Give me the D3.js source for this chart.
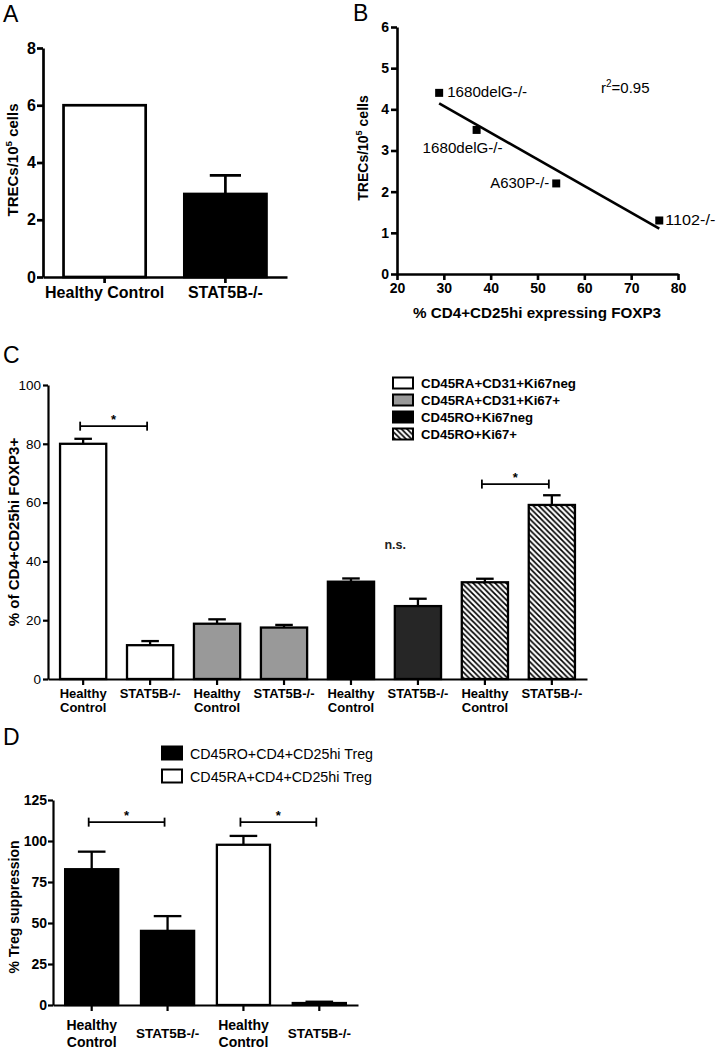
<!DOCTYPE html>
<html><head><meta charset="utf-8">
<script src="https://cdn.jsdelivr.net/npm/d3@7"></script>
<style>body{margin:0;background:#fff} svg{display:block} text{font-family:"Liberation Sans",Arial,sans-serif}</style>
</head><body><svg id="c" width="717" height="1048"></svg>
<script>
// ---------- DATA ----------
// Panel A
const aCategories = ["Healthy Control", "STAT5B-/-"];
const aValues = [6.0, 2.9];
const aErrTop = [6.0, 3.55];
const aTicks = [0, 2, 4, 6, 8];
// Panel B
const bX = [29, 37, 54, 76];
const bY = [4.4, 3.5, 2.2, 1.3];
const bLabels = ["1680delG-/-", "1680delG-/-", "A630P-/-", "1102-/-"];
const bXTicks = [20, 30, 40, 50, 60, 70, 80];
const bYTicks = [0, 1, 2, 3, 4, 5, 6];
const bR2 = "=0.95";
// Panel C
const cCategories = ["Healthy Control", "STAT5B-/-", "Healthy Control", "STAT5B-/-", "Healthy Control", "STAT5B-/-", "Healthy Control", "STAT5B-/-"];
const cSeries = ["CD45RA+CD31+Ki67neg", "CD45RA+CD31+Ki67+", "CD45RO+Ki67neg", "CD45RO+Ki67+"];
const cSeriesIndex = [0, 0, 1, 1, 2, 2, 3, 3];
const cValues = [80, 11.5, 18.8, 17.5, 33.1, 24.8, 32.9, 59.2];
const cErrTop = [81.7, 12.9, 20.3, 18.4, 34.2, 27.3, 34.1, 62.5];
const cTicks = [0, 20, 40, 60, 80, 100];
const cSigFrom = [0, 6], cSigTo = [1, 7], cSigLevel = [86, 66.3], cSigText = ["*", "*"];
const cNsPair = [4, 5], cNsLevel = 45.6, cNsText = "n.s.";
// Panel D
const dCategories = ["Healthy Control", "STAT5B-/-", "Healthy Control", "STAT5B-/-"];
const dSeries = ["CD45RO+CD4+CD25hi Treg", "CD45RA+CD4+CD25hi Treg"];
const dSeriesIndex = [0, 0, 1, 1];
const dValues = [82.8, 45.2, 97.7, 1.2];
const dErrTop = [93.5, 54.2, 103.1, 2.0];
const dTicks = [0, 25, 50, 75, 100, 125];
const dSigFrom = [0, 2], dSigTo = [1, 3], dSigLevel = [111.5, 111.5], dSigText = ["*", "*"];

// ---------- DRAW ----------
const svg = d3.select("#c");
const defs = svg.append("defs");
const pat = defs.append("pattern").attr("id", "hatch").attr("patternUnits", "userSpaceOnUse")
  .attr("width", 5.5).attr("height", 5.5);
pat.append("rect").attr("width", 5.5).attr("height", 5.5).attr("fill", "#fff");
pat.append("path").attr("d", "M0,0L5.5,5.5M-1,4.5L1,6.5M4.5,-1L6.5,1")
  .attr("stroke", "#000").attr("stroke-width", 1.7);

// force a text element to a target width
function fitWidth(sel, w) {
  return sel.attr("textLength", w).attr("lengthAdjust", "spacingAndGlyphs");
}
function panelLetter(t, x, y) {
  svg.append("text").attr("x", x).attr("y", y).attr("font-size", 23).text(t);
}
function styleAxis(g, sw, fs, fw) {
  g.select(".domain").attr("stroke", "#000").attr("stroke-width", sw);
  g.selectAll(".tick line").attr("stroke", "#000").attr("stroke-width", sw);
  g.selectAll(".tick text").attr("font-size", fs).attr("font-weight", fw)
    .attr("font-family", '"Liberation Sans",Arial,sans-serif').attr("fill", "#000");
}
function yTitle(parts, cx, cy, fs) {
  const t = svg.append("text").attr("transform", `translate(${cx},${cy}) rotate(-90)`)
    .attr("text-anchor", "middle").attr("font-size", fs).attr("font-weight", "bold");
  parts.forEach(p => {
    const s = t.append("tspan").text(p.t);
    if (p.sup) s.attr("font-size", fs * 0.65).attr("dy", -fs * 0.4);
    if (p.after) s.attr("dy", fs * 0.4);
  });
  return t;
}

// Panel A
(function () {
  const x = d3.scaleBand().domain(d3.range(aCategories.length)).range([43, 287]).paddingInner(0.32).paddingOuter(0.17);
  const y = d3.scaleLinear().domain([0, 8]).range([277, 48]);
  const fills = ["#fff", "#000"];
  const g = svg.append("g");
  aValues.forEach((v, i) => {
    if (aErrTop[i] > v) {
      const cx = x(i) + x.bandwidth() / 2, hw = x.bandwidth() * 0.19;
      g.append("line").attr("x1", cx).attr("x2", cx).attr("y1", y(v)).attr("y2", y(aErrTop[i])).attr("stroke", "#000").attr("stroke-width", 2.7);
      g.append("line").attr("x1", cx - hw).attr("x2", cx + hw).attr("y1", y(aErrTop[i])).attr("y2", y(aErrTop[i])).attr("stroke", "#000").attr("stroke-width", 2.7);
    }
    g.append("rect").attr("x", x(i)).attr("width", x.bandwidth()).attr("y", y(v)).attr("height", y(0) - y(v))
      .attr("fill", fills[i]).attr("stroke", "#000").attr("stroke-width", 2.7);
  });
  const ya = svg.append("g").attr("transform", "translate(43,0)")
    .call(d3.axisLeft(y).tickValues(aTicks).tickSize(6).tickSizeOuter(0).tickPadding(1).tickFormat(d3.format("d")));
  styleAxis(ya, 2.7, 16, "bold");
  const xa = svg.append("g").attr("transform", "translate(0,277)")
    .call(d3.axisBottom(x).tickSize(6).tickSizeOuter(0).tickFormat(""));
  styleAxis(xa, 2.7, 16, "bold");
  aCategories.forEach((c, i) => {
    svg.append("text").attr("x", x(i) + x.bandwidth() / 2).attr("y", 298).attr("text-anchor", "middle")
      .attr("font-size", 16).attr("font-weight", "bold").text(c);
  });
  yTitle([{ t: "TRECs/10" }, { t: "5", sup: true }, { t: " cells", after: true }], 18, 160, 15);
  panelLetter("A", 3, 22);
})();

// Panel B
(function () {
  const x = d3.scaleLinear().domain([20, 80]).range([397, 678]);
  const y = d3.scaleLinear().domain([0, 6]).range([274, 27]);
  const xa = svg.append("g").attr("transform", "translate(0,274)")
    .call(d3.axisBottom(x).tickValues(bXTicks).tickSize(6).tickSizeOuter(0).tickPadding(3).tickFormat(d3.format("d")));
  styleAxis(xa, 2.6, 14, "bold");
  const ya = svg.append("g").attr("transform", "translate(397,0)")
    .call(d3.axisLeft(y).tickValues(bYTicks).tickSize(6).tickSizeOuter(0).tickPadding(2).tickFormat(d3.format("d")));
  styleAxis(ya, 2.6, 14, "bold");
  // regression line (least squares fit of the points)
  const mx = d3.mean(bX), my = d3.mean(bY);
  const slope = d3.sum(bX, (v, i) => (v - mx) * (bY[i] - my)) / d3.sum(bX, v => (v - mx) * (v - mx));
  const icpt = my - slope * mx;
  const x0 = d3.min(bX), x1 = d3.max(bX);
  svg.append("line").attr("x1", x(x0)).attr("y1", y(icpt + slope * x0)).attr("x2", x(x1)).attr("y2", y(icpt + slope * x1))
    .attr("stroke", "#000").attr("stroke-width", 2.6);
  const sz = 8;
  bX.forEach((v, i) => {
    svg.append("rect").attr("x", x(v) - sz / 2).attr("y", y(bY[i]) - sz / 2).attr("width", sz).attr("height", sz).attr("fill", "#000");
  });
  const offs = [[8, 4], [-54, 23], [-66, 5], [6, 5]];
  const widths = [80, 80, 59, 50];
  bLabels.forEach((l, i) => {
    const t = svg.append("text").attr("x", x(bX[i]) + offs[i][0]).attr("y", y(bY[i]) + offs[i][1])
      .attr("font-size", 15).text(l);
    fitWidth(t, widths[i]);
  });
  const r = svg.append("text").attr("x", 601).attr("y", 93).attr("font-size", 15);
  r.append("tspan").text("r");
  r.append("tspan").attr("font-size", 10).attr("dy", -6).text("2");
  r.append("tspan").attr("dy", 6).text(bR2);
  const xt = svg.append("text").attr("x", 413).attr("y", 318).attr("font-size", 15).attr("font-weight", "bold")
    .text("% CD4+CD25hi expressing FOXP3");
  fitWidth(xt, 248);
  yTitle([{ t: "TRECs/10" }, { t: "5", sup: true }, { t: " cells", after: true }], 368, 148, 14);
  panelLetter("B", 353, 21);
})();

// generic sig bracket
function bracket(x, y, i0, i1, lvl, txt, sw) {
  const xa = x(i0) + x.bandwidth() / 2 - 3, xb = x(i1) + x.bandwidth() / 2 - 3, yy = y(lvl);
  svg.append("line").attr("x1", xa).attr("x2", xb).attr("y1", yy).attr("y2", yy).attr("stroke", "#000").attr("stroke-width", sw);
  [xa, xb].forEach(xx => svg.append("line").attr("x1", xx).attr("x2", xx).attr("y1", yy - 4.5).attr("y2", yy + 4.5).attr("stroke", "#000").attr("stroke-width", sw));
  svg.append("text").attr("x", (xa + xb) / 2).attr("y", yy - 2).attr("text-anchor", "middle").attr("font-size", 13).attr("font-weight", "bold").text(txt);
}

// Panel C
(function () {
  const x = d3.scaleBand().domain(d3.range(cValues.length)).range([48, 587]).paddingInner(0.31).paddingOuter(0.18);
  const y = d3.scaleLinear().domain([0, 100]).range([679, 385]);
  const fills = ["#fff", "#999", "#000", "url(#hatch)"];
  const sw = 2.3;
  cValues.forEach((v, i) => {
    const cx = x(i) + x.bandwidth() / 2, hw = x.bandwidth() * 0.19;
    svg.append("line").attr("x1", cx).attr("x2", cx).attr("y1", y(v)).attr("y2", y(cErrTop[i])).attr("stroke", "#000").attr("stroke-width", sw);
    svg.append("line").attr("x1", cx - hw).attr("x2", cx + hw).attr("y1", y(cErrTop[i])).attr("y2", y(cErrTop[i])).attr("stroke", "#000").attr("stroke-width", sw);
    let f = fills[cSeriesIndex[i]];
    if (i === 5) f = "#262626";
    svg.append("rect").attr("x", x(i)).attr("width", x.bandwidth()).attr("y", y(v)).attr("height", y(0) - y(v))
      .attr("fill", f).attr("stroke", "#000").attr("stroke-width", sw);
  });
  const ya = svg.append("g").attr("transform", "translate(48,0)")
    .call(d3.axisLeft(y).tickValues(cTicks).tickSize(5).tickSizeOuter(0).tickPadding(2));
  styleAxis(ya, 2.2, 13.5, "normal");
  const xa = svg.append("g").attr("transform", "translate(0,679)")
    .call(d3.axisBottom(x).tickSize(6).tickSizeOuter(0).tickFormat(""));
  styleAxis(xa, 2.2, 13, "bold");
  cCategories.forEach((c, i) => {
    const cx = x(i) + x.bandwidth() / 2;
    const words = c === "Healthy Control" ? ["Healthy", "Control"] : [c];
    words.forEach((w, k) => svg.append("text").attr("x", cx).attr("y", 698 + k * 14).attr("text-anchor", "middle")
      .attr("font-size", 13).attr("font-weight", "bold").text(w));
  });
  cSigFrom.forEach((f, k) => bracket(x, y, f, cSigTo[k], cSigLevel[k], cSigText[k], 1.8));
  svg.append("text").attr("x", (x(cNsPair[0]) + x(cNsPair[1]) + x.bandwidth()) / 2).attr("y", y(cNsLevel) + 4)
    .attr("font-size", 12.5).attr("font-weight", "bold").attr("fill", "#222").text(cNsText);
  yTitle([{ t: "% of CD4+CD25hi FOXP3+" }], 19, 532, 15);
  // legend
  const lw = [155, 139, 112, 96];
  cSeries.forEach((s, i) => {
    const cy = 383 + i * 17;
    svg.append("rect").attr("x", 393).attr("y", cy - 5.5).attr("width", 20).attr("height", 11)
      .attr("fill", fills[i]).attr("stroke", "#000").attr("stroke-width", 2);
    const t = svg.append("text").attr("x", 421).attr("y", cy + 5).attr("font-size", 13.5).attr("font-weight", "bold").text(s);
    fitWidth(t, lw[i]);
  });
  panelLetter("C", 3, 363);
})();

// Panel D
(function () {
  const x = d3.scaleBand().domain(d3.range(dValues.length)).range([53, 358]).paddingInner(0.3).paddingOuter(0.16);
  const y = d3.scaleLinear().domain([0, 125]).range([1005, 800]);
  const fills = ["#000", "#fff"];
  const sw = 2.3;
  dValues.forEach((v, i) => {
    const cx = x(i) + x.bandwidth() / 2, hw = x.bandwidth() * 0.26;
    svg.append("line").attr("x1", cx).attr("x2", cx).attr("y1", y(v)).attr("y2", y(dErrTop[i])).attr("stroke", "#000").attr("stroke-width", sw);
    svg.append("line").attr("x1", cx - hw).attr("x2", cx + hw).attr("y1", y(dErrTop[i])).attr("y2", y(dErrTop[i])).attr("stroke", "#000").attr("stroke-width", sw);
    svg.append("rect").attr("x", x(i)).attr("width", x.bandwidth()).attr("y", y(v)).attr("height", y(0) - y(v))
      .attr("fill", fills[dSeriesIndex[i]]).attr("stroke", "#000").attr("stroke-width", sw);
  });
  const ya = svg.append("g").attr("transform", "translate(53,0)")
    .call(d3.axisLeft(y).tickValues(dTicks).tickSize(5).tickSizeOuter(0).tickPadding(1));
  styleAxis(ya, 2.2, 14, "bold");
  const xa = svg.append("g").attr("transform", "translate(0,1005)")
    .call(d3.axisBottom(x).tickSize(6).tickSizeOuter(0).tickFormat(""));
  styleAxis(xa, 2.2, 14, "bold");
  dCategories.forEach((c, i) => {
    const cx = x(i) + x.bandwidth() / 2;
    if (c === "Healthy Control") {
      ["Healthy", "Control"].forEach((w, k) => svg.append("text").attr("x", cx).attr("y", 1030 + k * 16.5).attr("text-anchor", "middle")
        .attr("font-size", 14).attr("font-weight", "bold").text(w));
    } else {
      svg.append("text").attr("x", cx).attr("y", 1038).attr("text-anchor", "middle")
        .attr("font-size", 13.5).attr("font-weight", "bold").text(c);
    }
  });
  dSigFrom.forEach((f, k) => bracket(x, y, f, dSigTo[k], dSigLevel[k], dSigText[k], 1.8));
  yTitle([{ t: "% Treg suppression" }], 19, 907, 14);
  const lw = [183, 182];
  dSeries.forEach((s, i) => {
    const cy = 753 + i * 23;
    svg.append("rect").attr("x", 162).attr("y", cy - 6.5).attr("width", 20).attr("height", 13)
      .attr("fill", fills[i]).attr("stroke", "#000").attr("stroke-width", 2);
    const t = svg.append("text").attr("x", 190).attr("y", cy + 5.5).attr("font-size", 15).text(s);
    fitWidth(t, lw[i]);
  });
  panelLetter("D", 3, 745);
})();
</script></body></html>
